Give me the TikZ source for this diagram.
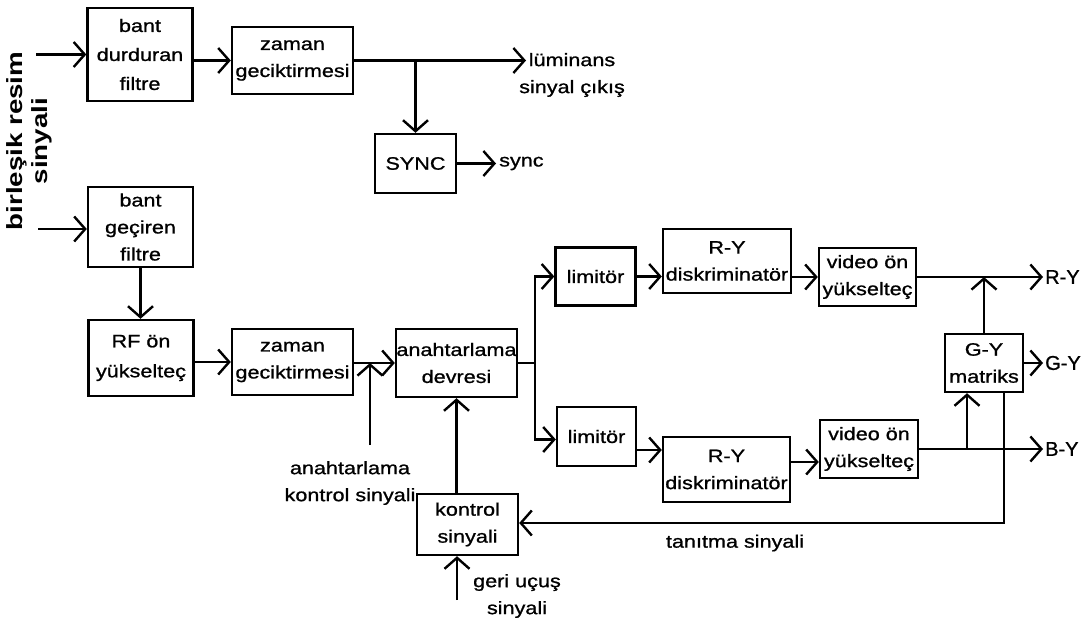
\documentclass[tikz,border=0pt]{standalone}
\usepackage{fontspec}
\setmainfont{Liberation Sans}[FakeStretch=1.2,FakeBold=1]
\newfontfamily\rotfam{Liberation Sans}
\newfontfamily\outfam{Liberation Sans}[FakeBold=1]
\usetikzlibrary{arrows.meta,calc}
\newcommand\boxfont{\fontsize{18}{27}\selectfont}
\newcommand\rotfont{\rotfam\bfseries\fontsize{22}{25}\selectfont}
\newcommand\outfont{\outfam\fontsize{20}{24}\selectfont}
\begin{document}
\begin{tikzpicture}[x=1pt,y=-1pt,
  box/.style={draw, line width=2.4pt, inner sep=0pt, align=center, font=\boxfont},
  arr/.style={line width=2.4pt, -{Straight Barb[length=11pt,width=25pt,line width=2.4pt]}},
  ln/.style={line width=2.4pt},
  lbl/.style={align=center, inner sep=0pt, font=\boxfont},
  olbl/.style={anchor=west, inner sep=0pt, font=\outfont}]
\fill[white] (0,0) rectangle (1092,623);
\useasboundingbox (0,0) rectangle (1092,623);

% boxes
\node[box, minimum width=105, minimum height=93] (b1) at (140,54.5) {bant\\[2pt]durduran\\[2pt]filtre};
\node[box, minimum width=121, minimum height=67] (z1) at (292.5,60.5) {zaman\\geciktirmesi};
\node[box, minimum width=81, minimum height=59] (syncb) at (415.5,163.5) {SYNC};
\node[box, minimum width=105, minimum height=80] (b2) at (140.5,227) {bant\\geçiren\\filtre};
\node[box, minimum width=105, minimum height=76] (rf) at (141,358) {RF ön\\[3pt]yükselteç};
\node[box, minimum width=121, minimum height=66] (z2) at (292.5,362) {zaman\\geciktirmesi};
\node[box, minimum width=121, minimum height=68] (anah) at (456.5,363) {anahtarlama\\devresi};
\node[box, minimum width=101, minimum height=61] (kon) at (467.5,524.5) {kontrol\\sinyali};
\node[box, minimum width=80, minimum height=58] (lim1) at (595.5,276.5) {limitör};
\node[box, minimum width=128, minimum height=64] (disc1) at (727,261) {R-Y\\diskriminatör};
\node[box, minimum width=97, minimum height=58] (vid1) at (867.5,277) {video ön\\yükselteç};
\node[box, minimum width=79, minimum height=59] (lim2) at (596.5,436.5) {limitör};
\node[box, minimum width=127, minimum height=65] (disc2) at (726.5,469.5) {R-Y\\diskriminatör};
\node[box, minimum width=98, minimum height=58] (vid2) at (869,449) {video ön\\yükselteç};
\node[box, minimum width=78, minimum height=58] (mat) at (984,363) {G-Y\\matriks};

% free ends
\coordinate (in1) at (36,54.5);
\coordinate (in2) at (38,229);
\coordinate (lumtip) at (526,60.5);
\coordinate (synctip) at (496,163.5);
\coordinate (akc) at (370,445);
\coordinate (bus) at (535,363);
\coordinate (r1tip) at (1043,277);
\coordinate (g1tip) at (1043,363);
\coordinate (b1tip) at (1043,449);
\coordinate (br) at (967,449);
\coordinate (tm) at (1004,523);
\coordinate (gu) at (457,600);
\coordinate (l2o) at ($(lim2.east)+(0,13.5)$);
\coordinate (d2o) at ($(disc2.east)+(0,-7.5)$);

% connectors
\draw[arr] (in1) -- (b1.west);
\draw[arr] (b1.east |- z1.west) -- (z1.west);
\draw[arr] (z1.east) -- (lumtip);
\draw[arr] (syncb.north |- z1.east) -- (syncb.north);
\draw[arr] (syncb.east) -- (synctip);
\draw[arr] (in2) -- (in2 -| b2.west);
\draw[arr] (b2.south) -- (b2.south |- rf.north);
\draw[arr] (rf.east |- z2.west) -- (z2.west);
\draw[arr] (z2.east |- anah.west) -- (anah.west);
\draw[arr] (akc) -- (akc |- anah.west);
\draw[ln] (anah.east) -- (bus);
\draw[arr] (bus) |- (lim1.west);
\draw[arr] (bus) |- ($(lim2.west)+(0,3)$);
\draw[arr] (lim1.east) -- (lim1.east -| disc1.west);
\draw[arr] (disc1.east |- vid1.west) -- (vid1.west);
\draw[arr] (vid1.east) -- (r1tip);
\draw[arr] (mat.north) -- (mat.north |- vid1.east);
\draw[arr] (mat.east) -- (g1tip);
\draw[arr] (l2o) -- (l2o -| disc2.west);
\draw[arr] (d2o) -- (d2o -| vid2.west);
\draw[arr] (vid2.east) -- (b1tip);
\draw[arr] (br) -- (br |- mat.south);
\draw[arr] (mat.south -| tm) -- (tm) -- (tm -| kon.east);
\draw[arr] (anah.south |- kon.north) -- (anah.south);
\draw[arr] (gu) -- (gu |- kon.south);

% labels
\node[rotate=90, inner sep=0pt] (rl) at (30,141) {\scalebox{1.26}[1]{\rotfont\begin{tabular}{@{}c@{}}birleşik resim\\sinyali\end{tabular}}};
\node[lbl] (lum) at (572,75) {lüminans\\sinyal çıkış};
\node[lbl, anchor=west] (synclbl) at (499,163.5) {sync};
\node[olbl] (ry) at (1045,277) {R-Y};
\node[olbl] (gy) at (1045,363) {G-Y};
\node[olbl] (by) at (1045,449) {B-Y};
\node[lbl] (akl) at (350,483) {anahtarlama\\kontrol sinyali};
\node[lbl] (gul) at (517,596) {geri uçuş\\sinyali};
\node[lbl] (tml) at (735,543) {tanıtma sinyali};
\end{tikzpicture}
\end{document}
